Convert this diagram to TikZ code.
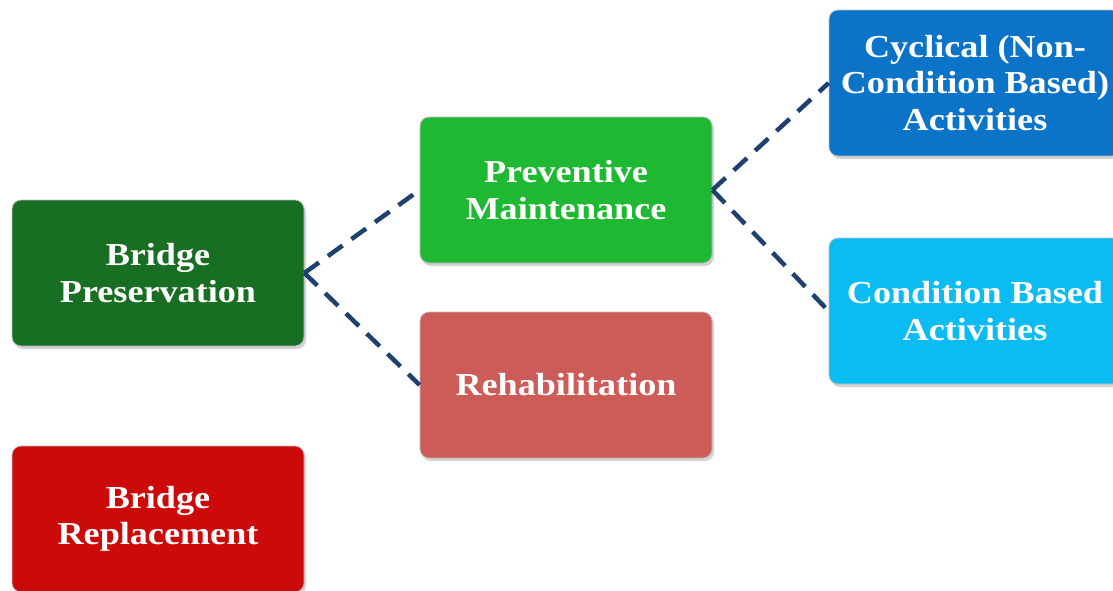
\documentclass[tikz,border=0pt]{standalone}
\usepackage{fontspec}
\setmainfont{Liberation Serif}[FakeStretch=1.13]
\usetikzlibrary{shadows}

\definecolor{darkgreen}{HTML}{186F23}
\definecolor{brightgreen}{HTML}{1EB832}
\definecolor{rosered}{HTML}{CD5B57}
\definecolor{deepred}{HTML}{CC0A0A}
\definecolor{midblue}{HTML}{0B74C9}
\definecolor{skyblue}{HTML}{0BBCF3}
\definecolor{navyline}{HTML}{1F4170}

\tikzset{
  box/.style={rounded corners=9pt, minimum width=292pt, minimum height=146pt,
    align=center, text=white, font=\fontsize{32}{36.5}\selectfont\bfseries,
    draw=black!25, line width=0.8pt,
    drop shadow={shadow xshift=2pt, shadow yshift=-3pt, opacity=0.35}},
  link/.style={dashed, dash pattern=on 18pt off 11pt, line width=4.5pt, draw=navyline}
}

\begin{document}
\begin{tikzpicture}[x=1pt, y=-1pt]
  \useasboundingbox (0,0) rectangle (1113,590);

  \node[box, fill=darkgreen] (BP) at (158,273) {Bridge\\Preservation};
  \node[box, fill=deepred] (BR) at (158,519) {Bridge\\Replacement};
  \node[box, fill=brightgreen] (PM) at (566,190) {Preventive\\Maintenance};
  \node[box, fill=rosered] (RH) at (566,385) {Rehabilitation};
  \node[box, fill=midblue] (CY) at (975,83) {Cyclical (Non-\\Condition Based)\\Activities};
  \node[box, fill=skyblue] (CB) at (975,311) {Condition Based\\Activities};

  \draw[link] (BP.east) -- (PM.west);
  \draw[link] (BP.east) -- (RH.west);
  \draw[link] (PM.east) -- (CY.west);
  \draw[link] (PM.east) -- (CB.west);
\end{tikzpicture}
\end{document}
